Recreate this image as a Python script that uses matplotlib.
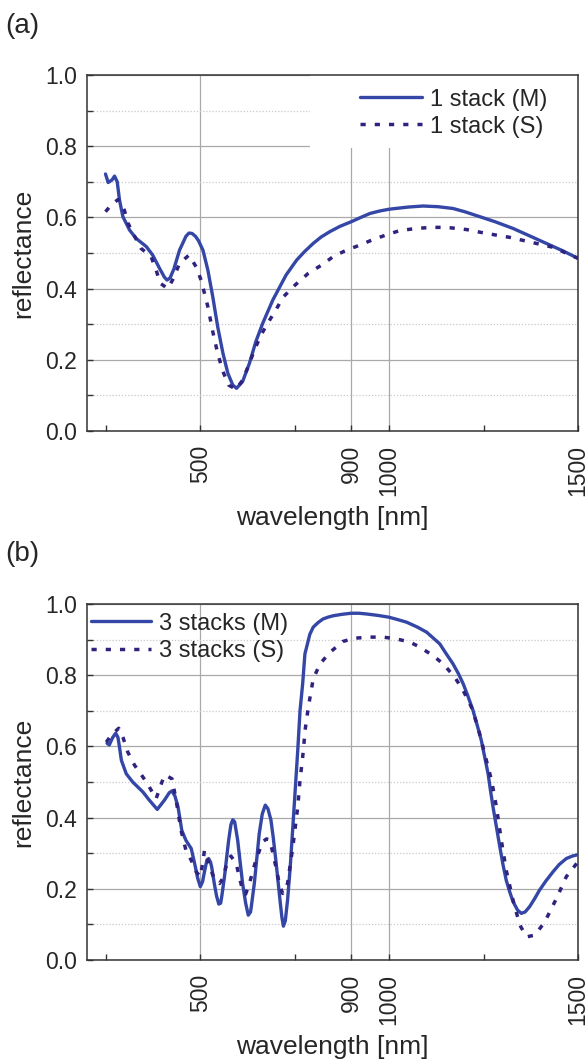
import numpy as np
import matplotlib as mpl
mpl.use('Agg')
import matplotlib.pyplot as plt
from matplotlib.patches import Rectangle
from matplotlib.ticker import FixedLocator, MultipleLocator

plt.rcParams['font.family'] = ['Liberation Sans', 'DejaVu Sans']

BLUE = '#3446a6'
PURPLE = '#30237f'
TXT = '#262626'

# ---- (a) one stack ----
wl_a_m = [249, 256, 266, 273, 280, 286, 295, 313, 330, 357, 374, 392, 405, 412, 420, 430,
          445, 462, 470, 478, 487, 495, 507, 520, 533, 546, 560, 573, 586, 596, 612, 630,
          647, 665, 692, 727, 755, 777, 799, 820, 843, 870, 900, 925, 949, 975, 1000, 1050,
          1090, 1130, 1169, 1200, 1240, 1280, 1328, 1370, 1416, 1460, 1500]
r_a_m = [0.722, 0.698, 0.705, 0.716, 0.700, 0.649, 0.602, 0.564, 0.541, 0.518, 0.494, 0.457,
         0.432, 0.424, 0.430, 0.455, 0.508, 0.547, 0.556, 0.555, 0.547, 0.535, 0.508, 0.452,
         0.377, 0.293, 0.218, 0.162, 0.129, 0.120, 0.139, 0.190, 0.251, 0.302, 0.368, 0.438,
         0.480, 0.505, 0.527, 0.545, 0.560, 0.575, 0.588, 0.600, 0.611, 0.618, 0.623, 0.629,
         0.632, 0.630, 0.625, 0.616, 0.602, 0.588, 0.569, 0.549, 0.527, 0.506, 0.485]

wl_a_s = [249, 264, 282, 299, 308, 326, 343, 370, 383, 394, 414, 429, 445, 470, 489, 502,
          511, 520, 533, 546, 560, 575, 595, 612, 630, 643, 661, 678, 700, 720, 751, 786,
          821, 852, 887, 922, 958, 993, 1028, 1072, 1112, 1152, 1204, 1257, 1319, 1381, 1434, 1500]
r_a_s = [0.616, 0.635, 0.650, 0.620, 0.585, 0.547, 0.513, 0.489, 0.452, 0.415, 0.400, 0.429,
         0.471, 0.494, 0.461, 0.424, 0.387, 0.349, 0.279, 0.218, 0.167, 0.129, 0.117, 0.143,
         0.190, 0.227, 0.270, 0.302, 0.340, 0.377, 0.410, 0.443, 0.466, 0.490, 0.508, 0.522,
         0.538, 0.551, 0.563, 0.569, 0.572, 0.572, 0.566, 0.555, 0.544, 0.529, 0.516, 0.485]

# ---- (b) three stacks ----
wl_b_m = [253, 259, 268, 276, 282, 286, 291, 304, 321, 348, 365, 386, 405, 418, 425, 433,
          441, 451, 462, 476, 485, 493, 500, 506, 511, 517, 522, 527, 530, 537, 543, 549,
          554, 557, 564, 570, 575, 581, 586, 591, 593, 599, 606, 612, 620, 627, 633, 635,
          643, 650, 656, 664, 672, 679, 687, 693, 700, 711, 716, 720, 725, 731, 738, 745,
          752, 758, 764, 771, 777, 790, 799, 812, 825, 838, 852, 875, 899, 920, 940, 970,
          999, 1020, 1046, 1075, 1099, 1115, 1134, 1150, 1169, 1183, 1196, 1209, 1222, 1233,
          1244, 1253, 1262, 1268, 1275, 1284, 1293, 1301, 1310, 1319, 1328, 1340, 1350, 1360,
          1372, 1385, 1398, 1415, 1434, 1450, 1469, 1485, 1500]
r_b_m = [0.609, 0.604, 0.625, 0.637, 0.625, 0.598, 0.561, 0.523, 0.500, 0.472, 0.449, 0.423,
         0.449, 0.470, 0.475, 0.460, 0.430, 0.364, 0.336, 0.313, 0.271, 0.230, 0.206, 0.220,
         0.248, 0.278, 0.285, 0.275, 0.262, 0.215, 0.180, 0.157, 0.160, 0.180, 0.234, 0.290,
         0.336, 0.380, 0.394, 0.388, 0.375, 0.336, 0.270, 0.215, 0.160, 0.126, 0.135, 0.150,
         0.215, 0.290, 0.355, 0.410, 0.435, 0.425, 0.393, 0.345, 0.280, 0.168, 0.120, 0.095,
         0.110, 0.168, 0.260, 0.374, 0.490, 0.589, 0.700, 0.776, 0.860, 0.915, 0.935, 0.948,
         0.958, 0.963, 0.967, 0.971, 0.974, 0.974, 0.972, 0.968, 0.963, 0.957, 0.949, 0.935,
         0.921, 0.906, 0.888, 0.862, 0.832, 0.805, 0.776, 0.740, 0.701, 0.660, 0.617, 0.570,
         0.523, 0.478, 0.430, 0.374, 0.318, 0.270, 0.224, 0.192, 0.164, 0.140, 0.131, 0.135,
         0.150, 0.172, 0.196, 0.222, 0.248, 0.268, 0.285, 0.292, 0.296]

wl_b_s = [251, 264, 284, 295, 308, 326, 348, 365, 383, 395, 405, 415, 425, 436, 449, 462,
          476, 489, 500, 506, 511, 517, 524, 537, 551, 560, 568, 581, 595, 604, 612, 620,
          630, 647, 665, 675, 683, 690, 700, 710, 718, 731, 745, 758, 764, 771, 778, 786,
          799, 817, 843, 878, 909, 949, 984, 1019, 1055, 1081, 1116, 1143, 1174, 1196, 1218,
          1235, 1253, 1271, 1284, 1297, 1310, 1328, 1346, 1364, 1386, 1412, 1443, 1469, 1500]
r_b_s = [0.612, 0.631, 0.651, 0.626, 0.584, 0.547, 0.514, 0.486, 0.453, 0.490, 0.519, 0.515,
         0.509, 0.449, 0.364, 0.308, 0.280, 0.248, 0.234, 0.270, 0.308, 0.290, 0.262, 0.229,
         0.215, 0.230, 0.262, 0.292, 0.271, 0.230, 0.196, 0.185, 0.215, 0.280, 0.332, 0.340,
         0.338, 0.310, 0.262, 0.210, 0.187, 0.215, 0.318, 0.430, 0.505, 0.570, 0.650, 0.710,
         0.790, 0.832, 0.864, 0.895, 0.904, 0.907, 0.907, 0.902, 0.893, 0.879, 0.855, 0.832,
         0.794, 0.757, 0.710, 0.654, 0.579, 0.505, 0.430, 0.336, 0.252, 0.168, 0.098, 0.065,
         0.070, 0.107, 0.173, 0.234, 0.276]

labels_a = ['1 stack (M)', '1 stack (S)']
labels_b = ['3 stacks (M)', '3 stacks (S)']

x_labeled = [500, 900, 1000, 1500]
x_unlabeled = [250, 750, 1250]


def style_axes(ax):
  ax.set_xlim(200, 1500)
  ax.set_ylim(0, 1.0)
  ax.xaxis.set_major_locator(FixedLocator(x_labeled))
  ax.xaxis.set_minor_locator(FixedLocator(x_unlabeled))
  ax.yaxis.set_major_locator(MultipleLocator(0.2))
  ax.yaxis.set_minor_locator(MultipleLocator(0.1))
  ax.set_xticklabels([str(v) for v in x_labeled], rotation=90)
  ax.set_yticks(np.arange(0, 1.01, 0.2))
  ax.set_yticklabels(['%.1f' % v for v in np.arange(0, 1.01, 0.2)])
  ax.grid(which='major', color='#a9a9a9', lw=0.9, ls='-')
  ax.grid(which='minor', axis='y', color='#c9c9c9', lw=0.9, ls=(0, (1, 1.5)))
  ax.set_axisbelow(True)
  ax.tick_params(which='both', direction='in', length=4, width=1, color='#333333',
                 labelsize=16.5, labelcolor=TXT, top=False, right=False)
  ax.tick_params(axis='x', pad=10)
  ax.tick_params(axis='y', pad=7)
  for sp in ax.spines.values():
    sp.set_color('#333333')
    sp.set_linewidth(1.1)
  ax.set_xlabel('wavelength [nm]', fontsize=19, color=TXT, labelpad=7)
  ax.set_ylabel('reflectance', fontsize=19, color=TXT, labelpad=7)


fig = plt.figure(figsize=(5.88, 10.63), dpi=100)
L, W = 87 / 588, 491 / 588
ax1 = fig.add_axes([L, 1 - 431 / 1063, W, 356 / 1063])
ax2 = fig.add_axes([L, 1 - 960 / 1063, W, 356 / 1063])

for ax, wm, rm, ws, rs, labs in [(ax1, wl_a_m, r_a_m, wl_a_s, r_a_s, labels_a),
                                 (ax2, wl_b_m, r_b_m, wl_b_s, r_b_s, labels_b)]:
  style_axes(ax)
  ax.plot(wm, rm, color=BLUE, lw=2.4, label=labs[0], zorder=3,
          solid_capstyle='round', solid_joinstyle='round')
  ax.plot(ws, rs, color=PURPLE, lw=2.5, ls=(0, (1.5, 2.6)), label=labs[1], zorder=3,
          dash_capstyle='butt')

# white box behind the upper-right legend
ax1.add_patch(Rectangle((0.454, 0.795), 0.546, 0.205, transform=ax1.transAxes,
                        facecolor='white', edgecolor='none', zorder=2))
ax1.legend(loc='upper left', bbox_to_anchor=(0.556, 0.962), frameon=False, fontsize=17,
           borderpad=0, borderaxespad=0, handlelength=2.63, handletextpad=0.35,
           labelspacing=0.22, labelcolor=TXT)
ax2.legend(loc='upper left', bbox_to_anchor=(0.008, 0.976), frameon=False, fontsize=17,
           borderpad=0, borderaxespad=0, handlelength=2.55, handletextpad=0.35,
           labelspacing=0.25, labelcolor=TXT)

fig.text(5 / 588, 1 - 26 / 1063, '(a)', fontsize=20, color=TXT, va='center', ha='left')
fig.text(5 / 588, 1 - 554 / 1063, '(b)', fontsize=20, color=TXT, va='center', ha='left')

fig.savefig('out.png', dpi=100)
